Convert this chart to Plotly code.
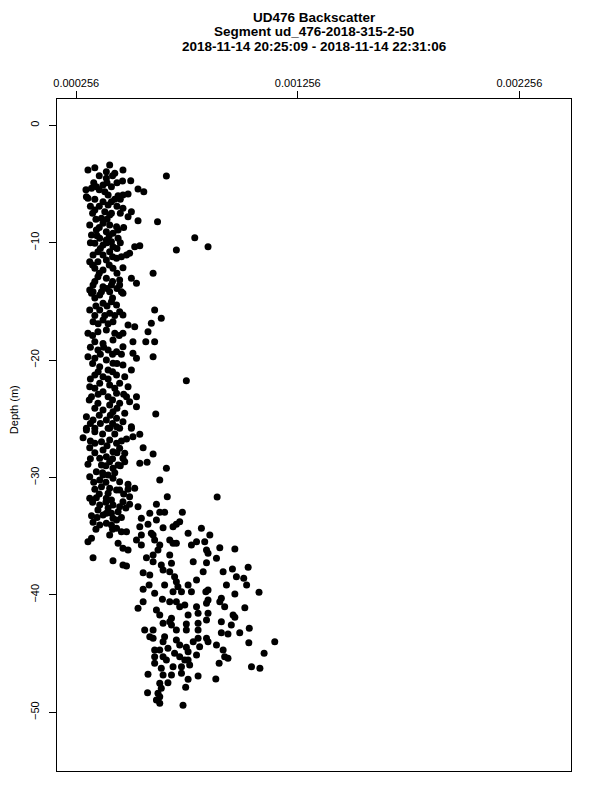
import plotly.graph_objects as go

# Backscatter values in units of 1e-6, depth in metres (negative = below surface)
depth = [
    -3.81, -3.61, -3.38, -3.95, -4.09, -3.81, -4.32, -4.51, -4.74, -4.72,
    -5.09, -5.23, -5.23, -5.37, -5.43, -5.66, -5.66, -5.94, -6.00, -5.94,
    -5.85, -6.22, -6.08, -6.51, -6.79, -6.51, -7.21, -7.07, -7.36, -7.79,
    -8.13, -8.21, -8.49, -9.34, -10.05, -7.36, -7.64, -7.92, -8.35, -8.49,
    -8.64, -9.06, -9.20, -8.92, -9.63, -9.77, -9.91, -9.63, -10.20, -10.34,
    -10.34, -10.26, -9.57, -10.34, -10.62, -8.92, -10.77, -11.05, -11.05, -10.77,
    -11.05, -10.90, -11.62, -11.62, -11.47, -11.33, -12.18, -12.33, -12.18, -12.13,
    -12.61, -12.90, -13.03, -13.18, -13.03, -13.46, -13.60, -13.75, -13.60, -13.60,
    -14.17, -14.17, -14.17, -14.17, -14.03, -14.31, -14.46, -14.31, -15.16, -15.03,
    -15.31, -15.74, -15.74, -16.01, -15.88, -16.16, -15.74, -16.44, -16.73, -16.59,
    -16.73, -17.01, -17.16, -16.87, -17.72, -17.58, -17.44, -17.72, -17.72, -17.58,
    -18.44, -18.58, -18.29, -18.44, -18.44, -18.44, -18.86, -19.15, -19.15, -19.28,
    -19.42, -19.71, -19.85, -20.00, -19.85, -19.71, -20.27, -20.42, -20.56, -20.85,
    -20.85, -21.27, -21.41, -21.27, -21.41, -21.75, -22.27, -21.98, -22.12, -21.98,
    -22.27, -23.12, -22.69, -23.12, -22.83, -23.12, -23.12, -23.68, -23.83, -23.68,
    -23.54, -23.97, -24.26, -24.40, -24.53, -24.59, -24.82, -25.11, -25.11, -24.96,
    -25.25, -25.67, -25.81, -25.81, -25.81, -25.67, -25.96, -26.61, -26.10, -25.81,
    -25.81, -25.81, -26.32, -26.53, -26.72, -27.46, -28.00, -27.46, -28.37, -28.23,
    -28.37, -28.65, -28.79, -28.71, -29.22, -28.88, -29.22, -29.93, -29.79, -30.36,
    -30.21, -30.58, -30.92, -30.78, -30.92, -31.07, -31.64, -31.66, -31.77, -31.72,
    -31.77, -31.64, -32.34, -32.34, -32.49, -32.28, -32.49, -32.28, -33.05, -33.05,
    -32.91, -33.25, -33.20, -33.05, -32.97, -32.97, -32.97, -33.82, -34.05, -33.90,
    -33.62, -33.48, -33.99, -33.62, -34.28, -33.99, -33.77, -34.19, -34.33, -34.62,
    -34.62, -34.19, -34.90, -34.90, -34.75, -34.90, -34.75, -34.33, -34.90, -35.18,
    -35.47, -35.32, -35.32, -35.32, -35.61, -35.61, -35.61, -36.03, -36.18, -35.75,
    -35.75, -35.75, -35.47, -35.47, -36.09, -35.98, -36.18, -36.46, -36.18, -36.60,
    -36.83, -36.60, -36.83, -36.88, -26.81, -27.09, -26.95, -27.09, -27.51, -27.94,
    -27.80, -27.66, -28.65, -28.94, -28.94, -29.51, -29.79, -30.07, -30.21, -31.07,
    -31.35, -31.92, -32.06, -32.77, -33.48, -34.05, -37.09, -37.45, -37.54, -37.17,
    -37.45, -37.31, -37.17, -37.26, -38.11, -38.31, -37.88, -38.02, -38.45, -38.87,
    -39.30, -39.73, -39.16, -39.16, -39.16, -38.73, -39.73, -39.73, -38.02, -38.02,
    -37.80, -37.65, -38.45, -38.59, -39.16, -39.16, -39.78, -39.92, -39.73, -39.58,
    -39.52, -39.86, -40.58, -41.14, -40.38, -40.58, -40.58, -41.00, -40.86, -41.00,
    -40.72, -40.43, -40.29, -40.58, -41.00, -41.09, -41.29, -41.71, -41.99, -42.28,
    -41.71, -41.57, -41.57, -42.14, -41.71, -41.91, -42.28, -42.57, -42.48, -42.42,
    -42.42, -42.57, -42.99, -42.99, -42.99, -42.99, -42.99, -43.22, -43.33, -43.22,
    -42.85, -43.56, -43.70, -43.56, -43.99, -43.84, -44.27, -43.99, -43.70, -43.70,
    -43.99, -44.27, -44.07, -43.99, -44.69, -44.69, -44.55, -44.98, -44.46, -44.84,
    -44.41, -45.12, -44.69, -45.26, -45.40, -45.83, -44.98, -45.26, -45.26, -45.55,
    -45.26, -45.55, -45.55, -45.83, -46.25, -46.12, -46.12, -45.97, -46.12, -46.25,
    -46.76, -46.82, -46.82, -46.68, -47.19, -46.91, -47.16, -47.53, -47.48, -47.96,
    -47.87, -48.33, -48.38, -48.67, -48.95, -49.23, -49.40,
]

backscatter_micro = [
    309, 340, 407, 392, 430, 467, 663, 392, 465, 502,
    377, 347, 415, 325, 535, 561, 385, 400, 445, 467,
    490, 309, 302, 377, 400, 415, 340, 467, 505, 490,
    535, 623, 317, 325, 340, 385, 407, 370, 377, 407,
    438, 392, 422, 445, 362, 392, 415, 445, 377, 422,
    520, 543, 791, 851, 708, 347, 354, 332, 377, 407,
    483, 497, 317, 354, 392, 438, 340, 377, 422, 467,
    603, 354, 392, 452, 505, 528, 332, 377, 415, 452,
    332, 370, 407, 460, 317, 325, 362, 467, 377, 415,
    438, 317, 362, 407, 452, 467, 610, 640, 332, 377,
    422, 490, 520, 595, 309, 354, 392, 430, 467, 580,
    340, 377, 422, 512, 570, 610, 467, 354, 400, 438,
    512, 309, 340, 392, 528, 603, 422, 467, 362, 400,
    505, 340, 377, 438, 475, 753, 317, 362, 407, 452,
    490, 325, 377, 400, 438, 483, 528, 354, 407, 452,
    497, 528, 377, 422, 475, 615, 302, 332, 392, 438,
    467, 505, 302, 340, 400, 438, 302, 287, 340, 407,
    452, 505, 543, 512, 483, 558, 603, 317, 362, 392,
    467, 475, 543, 576, 663, 309, 422, 317, 377, 452,
    633, 490, 520, 370, 407, 452, 667, 892, 317, 347,
    392, 497, 362, 422, 452, 497, 535, 618, 392, 415,
    445, 325, 377, 588, 633, 655, 735, 332, 362, 392,
    438, 550, 580, 618, 648, 708, 723, 693, 438, 460,
    483, 543, 407, 550, 595, 603, 761, 821, 859, 325,
    309, 528, 610, 678, 693, 708, 445, 467, 490, 550,
    633, 776, 799, 836, 972, 904, 844, 851, 625, 603,
    573, 678, 332, 889, 407, 438, 370, 340, 452, 475,
    422, 377, 407, 370, 445, 347, 400, 422, 362, 438,
    400, 415, 467, 354, 422, 415, 422, 467, 483, 603,
    640, 686, 784, 844, 558, 588, 648, 678, 700, 708,
    715, 693, 655, 585, 761, 799, 776, 731, 829, 919,
    961, 1032, 979, 1012, 934, 1025, 1081, 972, 841, 851,
    558, 610, 558, 535, 645, 678, 708, 723, 746, 799,
    844, 851, 911, 904, 926, 1017, 618, 633, 686, 678,
    761, 806, 851, 844, 964, 972, 911, 956, 753, 806,
    648, 686, 565, 603, 708, 753, 806, 911, 941, 994,
    1037, 588, 603, 655, 648, 708, 723, 784, 806, 844,
    851, 889, 1035, 1152, 610, 633, 670, 700, 753, 761,
    813, 799, 919, 926, 941, 901, 1104, 610, 648, 663,
    723, 746, 761, 610, 640, 693, 731, 768, 1047, 1085,
    580, 648, 686, 731, 761, 806, 886, 633, 670, 640,
    750, 578, 625, 633, 618, 633, 738,
]

# Additional readings from the dense upper core (same units)
depth_core = [
    -4.3, -4.3, -4.9, -4.9, -4.9, -5.5, -5.5, -6.3, -6.3, -6.3,
    -6.9, -6.9, -6.9, -7.5, -7.5, -7.5, -8.0, -8.0, -8.7, -8.7,
    -9.4, -9.4, -10.0, -10.0, -10.0, -10.5, -10.5, -11.2, -11.2, -11.9,
    -11.9, -12.6, -12.6, -13.3, -13.3, -13.9, -13.9, -14.7, -14.7, -15.4,
    -15.4, -16.2, -16.2, -16.2, -16.9, -16.9, -17.9, -17.9, -18.9, -18.9,
    -19.5, -19.5, -19.5, -20.3, -20.3, -21.0, -21.0, -21.6, -21.6, -22.4,
    -22.4, -22.9, -22.9, -23.4, -23.4, -24.1, -24.1, -24.7, -24.7, -25.4,
    -25.4, -25.4, -26.3, -26.3, -26.9, -26.9, -27.3, -27.9, -27.9, -28.4,
    -28.4, -29.0, -29.0, -29.6, -29.6, -30.4, -30.4, -31.0, -31.0, -31.4,
    -31.4, -32.1, -32.1, -32.6, -32.6, -33.4, -33.4, -34.4, -34.4,
]
backscatter_core_micro = [
    360, 420, 335, 395, 440, 300, 360, 340, 430, 455,
    320, 360, 440, 330, 415, 455, 345, 395, 360, 470,
    350, 405, 320, 395, 455, 365, 440, 420, 460, 330,
    405, 360, 440, 340, 420, 395, 440, 340, 420, 345,
    395, 340, 385, 430, 355, 400, 330, 450, 320, 380,
    365, 420, 460, 330, 440, 355, 420, 320, 400, 340,
    430, 355, 470, 315, 420, 340, 440, 360, 410, 320,
    365, 420, 375, 430, 320, 460, 395, 340, 440, 320,
    420, 390, 455, 375, 430, 335, 390, 340, 490, 360,
    470, 330, 390, 400, 480, 350, 460, 345, 420,
]

all_depth = depth + depth_core
backscatter = [v * 1e-6 for v in backscatter_micro + backscatter_core_micro]

x_tick_values = [0.000256, 0.001256, 0.002256]
x_tick_labels = ["0.000256", "0.001256", "0.002256"]
y_tick_values = [0, -10, -20, -30, -40, -50]

title_lines = [
    "UD476 Backscatter",
    "Segment ud_476-2018-315-2-50",
    "2018-11-14 20:25:09 - 2018-11-14 22:31:06",
]
y_axis_title = "Depth (m)"

FONT = "Liberation Sans, Arial, Helvetica, sans-serif"

fig = go.Figure()
fig.add_trace(go.Scatter(
    x=backscatter, y=all_depth, mode="markers",
    marker=dict(color="black", size=7, line=dict(width=0)),
    showlegend=False, hoverinfo="skip",
))

annotations = []
for line, shift in zip(title_lines, [82, 67.5, 53]):
    annotations.append(dict(
        text="<b>" + line + "</b>", xref="paper", yref="paper", x=0.5, y=1,
        xanchor="center", yanchor="middle", yshift=shift, showarrow=False,
        font=dict(family=FONT, size=13.5, color="black"),
    ))
annotations.append(dict(
    text=y_axis_title, xref="paper", yref="paper", x=0, y=0.537,
    xanchor="center", yanchor="middle", xshift=-43, textangle=-90,
    showarrow=False, font=dict(family=FONT, size=11, color="black"),
))

fig.update_layout(
    width=600, height=800,
    margin=dict(l=49, r=37, t=91, b=37, pad=0, autoexpand=False),
    paper_bgcolor="white", plot_bgcolor="white",
    annotations=annotations,
    font=dict(family=FONT, size=11, color="black"),
    xaxis=dict(
        side="top", range=[0.0001693, 0.002489], automargin=False,
        tickmode="array", tickvals=x_tick_values, ticktext=x_tick_labels,
        ticks="outside", ticklen=7, tickwidth=1, tickcolor="black",
        showline=True, linecolor="black", linewidth=1, mirror=True,
        showgrid=False, zeroline=False,
        tickfont=dict(family=FONT, size=11, color="black"),
    ),
    yaxis=dict(
        range=[-55.0, 2.24], automargin=False,
        tickmode="array", tickvals=y_tick_values,
        ticks="outside", ticklen=7, tickwidth=1, tickcolor="black",
        tickangle=-90, ticklabelstandoff=6,
        showline=True, linecolor="black", linewidth=1, mirror=True,
        showgrid=False, zeroline=False,
        tickfont=dict(family=FONT, size=11, color="black"),
    ),
)

fig.write_html("out.html")
